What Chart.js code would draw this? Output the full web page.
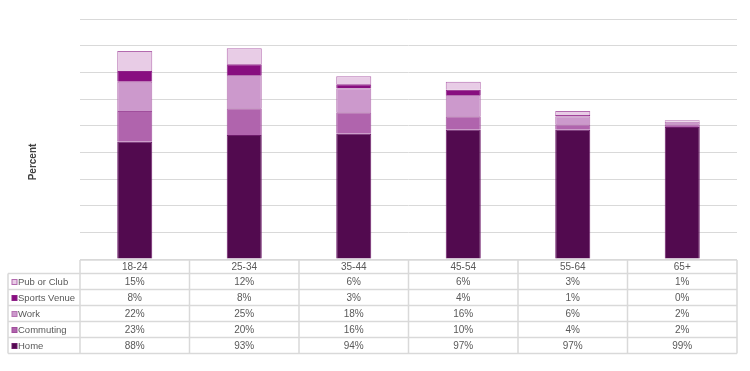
<!DOCTYPE html>
<html>
<head>
<meta charset="utf-8">
<script src="https://cdn.jsdelivr.net/npm/chart.js@4/dist/chart.umd.min.js"></script>
<style>
  body { margin: 0; background: #fff; }
  canvas { display: block; }
</style>
</head>
<body>
<canvas id="myChart" width="750" height="371"></canvas>
<script>
const ageGroups = ['18-24', '25-34', '35-44', '45-54', '55-64', '65+'];
const home = [88, 93, 94, 97, 97, 99];
const commuting = [23, 20, 16, 10, 4, 2];
const work = [22, 25, 18, 16, 6, 2];
const sportsVenue = [8, 8, 3, 4, 1, 0];
const pubOrClub = [15, 12, 6, 6, 3, 1];
const yTicks = { min: 0, max: 180, step: 20 };
const yTitle = 'Percent';

const series = [
  { label: 'Home', data: home, color: '#520A4F', border: '#6E1B6B' },
  { label: 'Commuting', data: commuting, color: '#B064AD', border: '#A04E9C' },
  { label: 'Work', data: work, color: '#CC99CC', border: '#B574B2' },
  { label: 'Sports Venue', data: sportsVenue, color: '#880E80', border: '#8E2087' },
  { label: 'Pub or Club', data: pubOrClub, color: '#E8CCE6', border: '#B36AAF' }
];

// data table under the plot, rows listed top-down like the original
const tablePlugin = {
  id: 'dataTable',
  afterDraw(chart) {
    const ctx = chart.ctx;
    const x = chart.scales.x;
    const area = chart.chartArea;
    const colW = (area.right - area.left) / ageGroups.length;
    const top = area.bottom + 1;
    const headH = 13.5;
    const rowH = 16;
    const rows = series.slice().reverse();
    const tableLeft = 8;
    const bottom = top + headH + rows.length * rowH;

    ctx.save();
    ctx.strokeStyle = '#d9d9d9';
    ctx.lineWidth = 1.5;

    // horizontal lines
    ctx.beginPath();
    ctx.moveTo(area.left, top);
    ctx.lineTo(area.right, top);
    for (let r = 0; r <= rows.length; r++) {
      const y = top + headH + r * rowH;
      ctx.moveTo(tableLeft, y);
      ctx.lineTo(area.right, y);
    }
    // vertical lines
    ctx.moveTo(tableLeft, top + headH);
    ctx.lineTo(tableLeft, bottom);
    for (let c = 0; c <= ageGroups.length; c++) {
      const xx = area.left + c * colW;
      ctx.moveTo(xx, top);
      ctx.lineTo(xx, bottom);
    }
    ctx.stroke();

    ctx.font = '10px "Liberation Sans", Arial, sans-serif';
    ctx.fillStyle = '#595959';
    ctx.textBaseline = 'middle';
    ctx.textAlign = 'center';
    ageGroups.forEach((g, i) => {
      ctx.fillText(g, x.getPixelForValue(i), top + headH / 2 + 0.5);
    });

    rows.forEach((s, r) => {
      const cy = top + headH + r * rowH + rowH / 2 + 0.5;
      // legend key
      ctx.fillStyle = s.color;
      ctx.fillRect(12, cy - 2.5, 5, 5);
      ctx.strokeStyle = s.border;
      ctx.lineWidth = 1;
      ctx.strokeRect(12, cy - 2.5, 5, 5);
      ctx.fillStyle = '#595959';
      ctx.textAlign = 'left';
      ctx.font = '9.5px "Liberation Sans", Arial, sans-serif';
      ctx.fillText(s.label, 18, cy);
      ctx.font = '10px "Liberation Sans", Arial, sans-serif';
      ctx.textAlign = 'center';
      s.data.forEach((v, i) => {
        ctx.fillText(v + '%', x.getPixelForValue(i), cy);
      });
    });

    // y axis title
    ctx.translate(33, 162);
    ctx.rotate(-Math.PI / 2);
    ctx.font = 'bold 10px "Liberation Sans", Arial, sans-serif';
    ctx.fillStyle = '#404040';
    ctx.textAlign = 'center';
    ctx.fillText(yTitle, 0, 0);
    ctx.restore();
  }
};

new Chart(document.getElementById('myChart'), {
  type: 'bar',
  data: {
    labels: ageGroups,
    datasets: series.map(s => ({
      label: s.label,
      data: s.data,
      backgroundColor: s.color,
      borderColor: s.border,
      borderWidth: 1,
      categoryPercentage: 1,
      barPercentage: 0.32
    }))
  },
  options: {
    responsive: false,
    animation: false,
    layout: { padding: { top: 19, bottom: 112, left: 24, right: 13 } },
    plugins: { legend: { display: false }, tooltip: { enabled: false } },
    scales: {
      x: { stacked: true, display: false },
      y: {
        stacked: true,
        min: yTicks.min,
        max: yTicks.max,
        ticks: { display: false, stepSize: yTicks.step },
        grid: { color: '#d9d9d9', lineWidth: 1, drawTicks: false },
        border: { display: false },
        title: { display: false },
        afterFit(scale) { scale.width = 56; }
      }
    }
  },
  plugins: [tablePlugin]
});
</script>
</body>
</html>
